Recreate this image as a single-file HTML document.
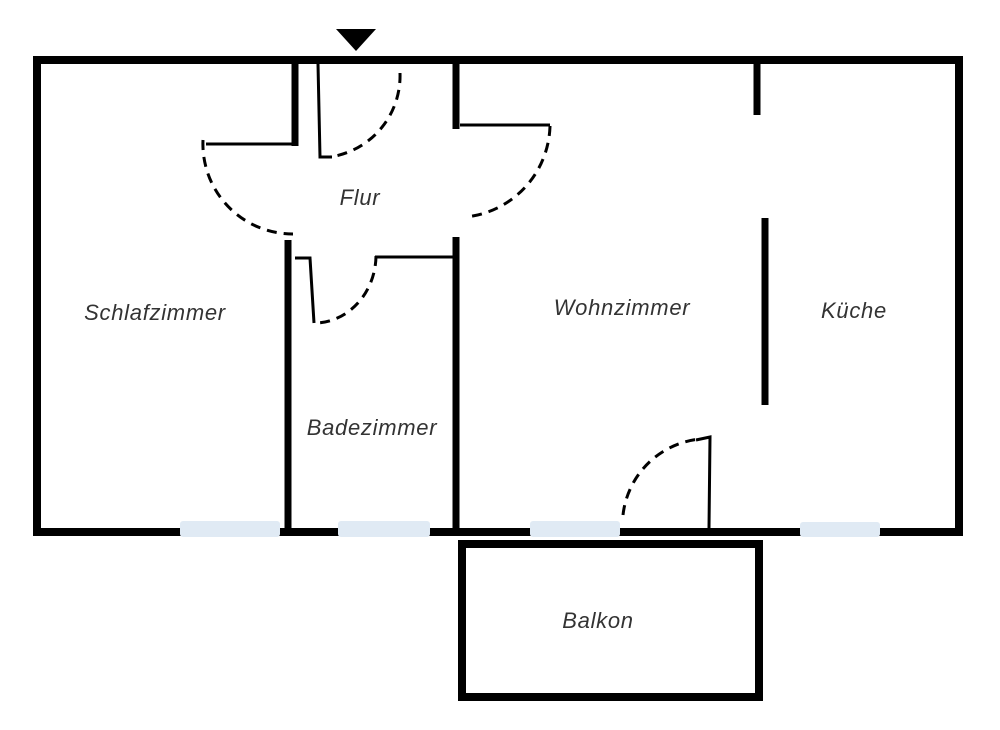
<!DOCTYPE html>
<html><head><meta charset="utf-8"><style>
html,body{margin:0;padding:0;background:#fff;}
svg text{font-family:"Liberation Sans",sans-serif;font-style:italic;font-size:22px;letter-spacing:0.7px;fill:#333;text-anchor:middle;}
</style></head><body>
<svg width="1000" height="725" viewBox="0 0 1000 725" xmlns="http://www.w3.org/2000/svg">
<rect x="0" y="0" width="1000" height="725" fill="#fff"/>
<rect x="37" y="60" width="922" height="472" fill="none" stroke="#000" stroke-width="8"/>
<g fill="#e0eaf4">
<rect x="180" y="521" width="100" height="16" rx="3"/>
<rect x="338" y="521" width="92" height="16" rx="3"/>
<rect x="530" y="521" width="90" height="16" rx="3"/>
<rect x="800" y="522" width="80" height="15" rx="3"/>
</g>
<rect x="462" y="544" width="297" height="153" fill="none" stroke="#000" stroke-width="8"/>
<polygon points="336,29 376,29 356,51" fill="#000"/>
<g stroke="#000" stroke-width="7" fill="none">
<line x1="295" y1="60" x2="295" y2="146"/>
<line x1="456" y1="60" x2="456" y2="129"/>
<line x1="288" y1="240" x2="288" y2="530"/>
<line x1="456" y1="237" x2="456" y2="530"/>
<line x1="757" y1="60" x2="757" y2="115"/>
<line x1="765" y1="218" x2="765" y2="405"/>
</g>
<g stroke="#000" stroke-width="3" fill="none">
<polyline points="206,144 295,144"/>
<polyline points="318,64 320,157 332,157"/>
<polyline points="460,125 550,125"/>
<polyline points="375,257 456,257"/>
<polyline points="295,258 310,258 314,323"/>
<polyline points="709,528 710,437 696,440"/>
</g>
<g stroke="#000" stroke-width="3" fill="none" stroke-dasharray="10,7">
<path d="M203,140 A90,90 0 0 0 293,234"/>
<path d="M400,73 A82,82 0 0 1 330,157"/>
<path d="M550,126 A94,94 0 0 1 466,217"/>
<path d="M376,256 A62,68 0 0 1 316,323"/>
<path d="M623,515 A86,86 0 0 1 700,439"/>
</g>
<text x="360" y="205">Flur</text>
<text x="155" y="320">Schlafzimmer</text>
<text x="372" y="435">Badezimmer</text>
<text x="622" y="315">Wohnzimmer</text>
<text x="854" y="318">Küche</text>
<text x="598" y="628">Balkon</text>
</svg>
</body></html>
